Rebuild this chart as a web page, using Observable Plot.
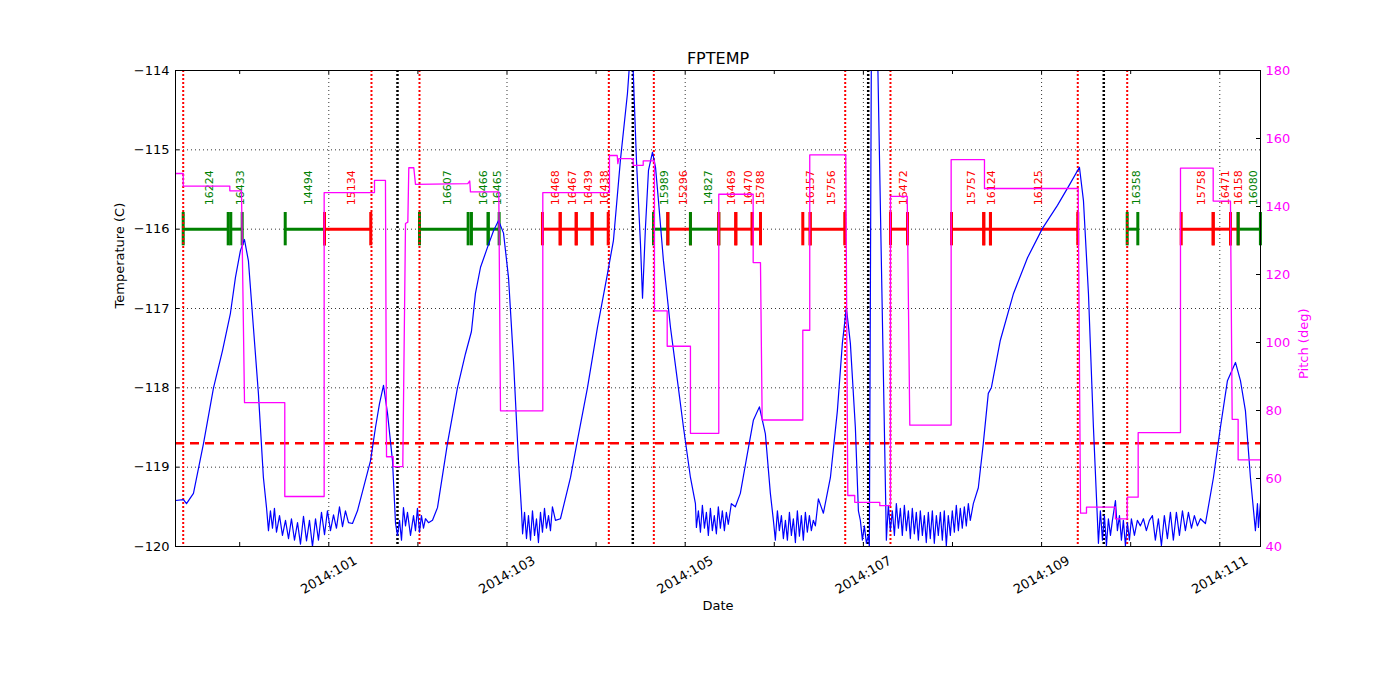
<!DOCTYPE html>
<html><head><meta charset="utf-8">
<script src="https://cdn.jsdelivr.net/npm/d3@7"></script>
<script src="https://cdn.jsdelivr.net/npm/@observablehq/plot@0.6"></script>
<style>body{margin:0;background:#fff;} #chart{width:1400px;height:700px;}</style>
</head><body><div id="chart"></div>
<script>
// ---- axes / scale values ----
const xDomain = [99.2795, 111.457];           // day of year 2014
const tempDomain = [-120, -114];               // left axis, C
const pitchDomain = [40, 180];                 // right axis, deg
const tempTicks = [-120, -119, -118, -117, -116, -115, -114];
const gridTemps = [-119, -118, -117, -116, -115];
const pitchTicks = [40, 60, 80, 100, 120, 140, 160, 180];
const dayTicks = [100, 101, 102, 103, 104, 105, 106, 107, 108, 109, 110, 111];
const labelDays = [101, 103, 105, 107, 109, 111];
const limitTemp = -118.7;
const barTemp = -116;
const labelTemp = -115.70;

// ---- events ----
const redEvents = [99.366, 101.479, 102.018, 104.143, 104.648, 106.796, 107.304, 109.406, 109.961];
const blackEvents = [101.771, 104.412, 107.054, 109.698];

// ---- observations ----
const obsids = [16224, 16433, 14494, 15134, 16607, 16466, 16465, 16468, 16467, 16439, 16438, 15989, 15296, 14827, 16469, 16470, 15788, 16157, 15756, 16472, 15757, 16124, 16125, 16358, 15758, 16471, 16158, 16080];
const obsStart = [99.366, 99.900, 100.511, 100.952, 102.018, 102.601, 102.789, 103.398, 103.597, 103.777, 103.956, 104.644, 104.805, 105.059, 105.377, 105.568, 105.752, 106.320, 106.403, 107.304, 107.989, 108.351, 108.426, 109.961, 110.567, 110.926, 111.120, 111.206];
const obsEnd = [99.871, 100.028, 100.952, 101.471, 102.564, 102.789, 102.912, 103.597, 103.777, 103.956, 104.136, 104.805, 105.059, 105.377, 105.568, 105.752, 105.845, 106.403, 106.791, 107.495, 108.351, 108.426, 109.406, 110.080, 110.926, 111.120, 111.206, 111.456];
const obsKind = ["g","g","g","r","g","g","g","r","r","r","r","g","r","g","r","r","r","r","r","r","r","r","r","g","r","r","r","g"];

// ---- FPTEMP (day, C) ----
const fptemp = [
[99.279,-119.42],[99.369,-119.41],[99.403,-119.46],[99.481,-119.33],[99.594,-118.70],[99.706,-118.00],[99.807,-117.53],[99.896,-117.06],[99.952,-116.61],[100.008,-116.27],[100.053,-116.13],[100.098,-116.40],[100.154,-117.24],[100.210,-118.07],[100.266,-119.13],[100.301,-119.51],
[100.323,-119.80],[100.345,-119.55],[100.368,-119.77],[100.390,-119.52],[100.413,-119.82],[100.447,-119.61],[100.480,-119.86],[100.514,-119.67],[100.548,-119.90],[100.581,-119.65],[100.615,-119.92],[100.649,-119.70],[100.682,-119.97],[100.716,-119.62],[100.750,-119.93],[100.783,-119.67],[100.817,-120.00],[100.851,-119.65],[100.884,-119.92],[100.918,-119.57],[100.952,-119.85],[100.985,-119.55],[101.019,-119.80],[101.053,-119.60],[101.086,-119.77],[101.120,-119.50],[101.154,-119.75],[101.187,-119.55],[101.221,-119.70],[101.266,-119.71],
[101.322,-119.55],[101.389,-119.26],[101.468,-118.92],[101.524,-118.50],[101.569,-118.20],[101.614,-117.97],[101.659,-118.32],[101.715,-118.92],[101.749,-119.71],[101.771,-119.86],
[101.794,-119.67],[101.816,-119.92],[101.838,-119.51],[101.861,-119.74],[101.883,-119.57],[101.917,-119.86],[101.951,-119.61],[101.973,-119.80],[101.995,-119.52],[102.018,-119.82],[102.040,-119.61],[102.063,-119.77],[102.085,-119.65],[102.119,-119.70],[102.164,-119.67],
[102.220,-119.51],[102.332,-118.70],[102.444,-118.00],[102.534,-117.57],[102.601,-117.29],[102.646,-116.81],[102.703,-116.48],[102.781,-116.23],[102.849,-116.02],[102.905,-115.89],[102.961,-116.05],[103.017,-116.61],[103.073,-117.66],[103.129,-118.92],[103.163,-119.55],[103.175,-119.84],
[103.197,-119.57],[103.219,-119.90],[103.241,-119.61],[103.264,-119.92],[103.286,-119.55],[103.309,-119.86],[103.331,-119.65],[103.353,-119.95],[103.376,-119.57],[103.398,-119.82],[103.421,-119.52],[103.443,-119.77],[103.466,-119.61],[103.488,-119.80],[103.510,-119.50],[103.544,-119.67],[103.600,-119.65],
[103.713,-119.13],[103.791,-118.66],[103.903,-118.00],[104.015,-117.24],[104.128,-116.56],[104.195,-116.14],[104.273,-115.13],[104.352,-114.29],[104.386,-113.75],[104.408,-113.75],[104.453,-115.13],[104.498,-116.18],[104.521,-116.87],[104.554,-115.98],[104.588,-115.26],[104.633,-115.03],[104.667,-115.22],[104.700,-115.64],[104.756,-116.40],[104.835,-117.24],[104.913,-117.91],[104.981,-118.50],[105.059,-119.13],[105.115,-119.46],[105.126,-119.76],
[105.148,-119.55],[105.171,-119.82],[105.193,-119.48],[105.216,-119.77],[105.238,-119.57],[105.260,-119.86],[105.283,-119.52],[105.305,-119.80],[105.327,-119.61],[105.350,-119.84],[105.372,-119.50],[105.395,-119.77],[105.417,-119.55],[105.440,-119.80],[105.462,-119.57],[105.484,-119.72],[105.518,-119.46],[105.563,-119.50],
[105.619,-119.33],[105.698,-118.83],[105.765,-118.41],[105.833,-118.24],[105.900,-118.58],[105.956,-119.33],[105.990,-119.67],
[106.012,-119.92],[106.035,-119.55],[106.057,-119.80],[106.080,-119.61],[106.102,-119.90],[106.125,-119.67],[106.147,-119.92],[106.170,-119.57],[106.192,-119.86],[106.214,-119.65],[106.237,-119.95],[106.259,-119.55],[106.282,-119.87],[106.304,-119.61],[106.326,-119.92],[106.349,-119.57],[106.371,-119.82],[106.394,-119.61],[106.416,-119.80],[106.438,-119.67],[106.461,-119.74],[106.495,-119.40],[106.551,-119.58],
[106.630,-119.13],[106.708,-118.29],[106.764,-117.44],[106.809,-116.99],[106.854,-117.44],[106.910,-118.50],[106.944,-119.55],[106.966,-119.67],[106.989,-119.92],[107.011,-119.74],[107.034,-119.96],[107.056,-119.86],[107.067,-120.00],[107.090,-113.62],[107.157,-113.62],[107.258,-119.92],
[107.280,-119.48],[107.303,-119.80],[107.325,-119.55],[107.348,-119.86],[107.370,-119.46],[107.393,-119.77],[107.415,-119.52],[107.437,-119.86],[107.460,-119.48],[107.482,-119.80],[107.505,-119.55],[107.527,-119.90],[107.549,-119.52],[107.572,-119.84],[107.594,-119.57],[107.617,-119.92],[107.639,-119.55],[107.662,-119.86],[107.684,-119.61],[107.706,-119.95],[107.729,-119.57],[107.751,-119.90],[107.774,-119.55],[107.796,-119.96],[107.819,-119.61],[107.841,-119.86],[107.864,-119.57],[107.886,-119.92],[107.908,-119.55],[107.931,-119.99],[107.953,-119.61],[107.976,-119.86],[107.998,-119.55],[108.021,-119.82],[108.043,-119.48],[108.066,-119.80],[108.088,-119.52],[108.110,-119.77],[108.133,-119.50],[108.155,-119.74],[108.178,-119.46],[108.200,-119.67],[108.234,-119.46],
[108.290,-119.26],[108.346,-118.70],[108.402,-118.07],[108.436,-118.00],[108.537,-117.40],[108.685,-116.81],[108.842,-116.36],[109.010,-115.99],[109.178,-115.70],[109.324,-115.42],[109.425,-115.22],[109.470,-115.64],[109.526,-116.81],[109.582,-118.50],[109.627,-119.67],[109.638,-119.96],
[109.660,-119.55],[109.683,-119.92],[109.705,-119.61],[109.728,-119.99],[109.750,-119.65],[109.773,-119.86],[109.795,-119.67],[109.829,-119.42],[109.851,-119.80],[109.874,-119.61],[109.896,-119.92],[109.918,-119.67],[109.941,-119.99],[109.963,-119.70],[109.986,-119.92],[110.008,-119.65],[110.042,-119.86],[110.075,-119.67],[110.109,-119.74],[110.143,-119.65],[110.176,-119.80],[110.210,-119.67],[110.244,-119.61],[110.277,-119.92],[110.311,-119.65],[110.345,-119.99],[110.378,-119.61],[110.412,-119.90],[110.446,-119.57],[110.479,-119.92],[110.513,-119.57],[110.547,-119.86],[110.581,-119.55],[110.614,-119.80],[110.648,-119.57],[110.682,-119.77],[110.715,-119.61],[110.749,-119.74],[110.783,-119.65],[110.839,-119.71],
[110.929,-119.13],[111.007,-118.50],[111.086,-117.91],[111.176,-117.68],[111.232,-117.91],[111.288,-118.29],[111.344,-119.13],[111.400,-119.80],[111.423,-119.46],[111.434,-119.76],[111.456,-119.46]
];

// ---- Pitch (day, deg) ----
const pitch = [
[99.279,149.7],[99.366,149.7],[99.366,146.0],[99.889,146.0],[99.889,144.6],[100.020,144.6],[100.054,82.3],[100.506,82.3],[100.506,54.7],[100.948,54.7],[100.948,144.1],[101.513,144.1],[101.513,147.7],[101.636,147.7],[101.648,66.4],[101.723,66.4],[101.723,63.5],[101.831,63.5],[101.831,64.7],[101.861,135.0],[101.887,135.4],[101.898,151.4],[101.954,151.4],[101.973,146.5],[102.560,146.7],[102.582,147.5],[102.590,144.3],[102.908,144.3],[102.927,79.9],[103.402,79.9],[103.402,144.1],[104.150,144.1],[104.150,155.0],[104.237,155.0],[104.244,152.6],[104.255,154.1],[104.416,154.1],[104.416,152.1],[104.529,152.1],[104.529,153.4],[104.655,153.4],[104.655,109.3],[104.798,109.3],[104.798,98.9],[105.059,98.9],[105.059,73.3],[105.377,73.3],[105.377,143.6],[105.763,143.6],[105.763,123.5],[105.845,123.5],[105.864,77.2],[106.320,77.2],[106.320,103.6],[106.398,103.6],[106.398,155.2],[106.802,155.2],[106.825,55.0],[106.903,55.0],[106.903,53.0],[107.184,53.0],[107.184,52.0],[107.304,52.0],[107.304,143.0],[107.492,143.0],[107.521,75.7],[107.985,75.7],[107.985,153.8],[108.359,153.8],[108.359,145.3],[109.411,145.3],[109.437,49.8],[109.504,49.8],[109.504,51.6],[109.829,51.6],[109.829,48.1],[109.961,48.1],[109.961,54.5],[110.084,54.5],[110.084,73.5],[110.559,73.5],[110.559,151.3],[110.926,151.3],[110.926,141.6],[111.120,141.6],[111.139,77.4],[111.206,77.4],[111.206,65.5],[111.456,65.5]
];

// ---- build ----
const colorOf = k => k === "g" ? "#008000" : "#ff0000";
const obs = obsids.map((o, i) => ({obsid: o, start: obsStart[i], end: obsEnd[i], color: colorOf(obsKind[i])}));
const bounds = obs.flatMap(d => [{x: d.start, color: d.color}, {x: d.end, color: d.color}]);
const toTemp = p => tempDomain[0] + (p - pitchDomain[0]) * (tempDomain[1] - tempDomain[0]) / (pitchDomain[1] - pitchDomain[0]);
const fmtT = d => d < 0 ? "\u2212" + Math.abs(d) : String(d);
const FONT = "'DejaVu Sans', 'Liberation Sans', sans-serif";

const chart = Plot.plot({
  width: 1400, height: 700,
  marginLeft: 175, marginRight: 140, marginTop: 70, marginBottom: 154,
  x: {domain: xDomain, axis: null},
  y: {domain: tempDomain, axis: null},
  color: {type: "identity"},
  style: {fontFamily: FONT, fontSize: "13px", background: "#fff", overflow: "visible", color: "#000"},
  marks: [
    Plot.ruleY(gridTemps, {y: d => d, stroke: "#000", strokeWidth: 0.8, strokeDasharray: "1,3"}),
    Plot.ruleX(labelDays, {x: d => d, stroke: "#000", strokeWidth: 0.8, strokeDasharray: "1,3"}),
    Plot.link(obs, {x1: "start", x2: "end", y1: () => barTemp, y2: () => barTemp, stroke: "color", strokeWidth: 3}),
    Plot.ruleX(bounds, {x: "x", y1: () => barTemp + 0.21, y2: () => barTemp - 0.21, stroke: "color", strokeWidth: 3}),
    Plot.text(obs, {x: d => (d.start + d.end) / 2, y: () => labelTemp, text: d => String(d.obsid), rotate: -90, textAnchor: "start", lineAnchor: "middle", fill: "color", fontSize: 11, dx: 4}),
    Plot.ruleX(redEvents, {x: d => d, stroke: "#ff0000", strokeWidth: 2, strokeDasharray: "2,2"}),
    Plot.ruleX(blackEvents, {x: d => d, stroke: "#000", strokeWidth: 2.5, strokeDasharray: "2,2"}),
    Plot.ruleY([limitTemp], {y: d => d, stroke: "#ff0000", strokeWidth: 2.5, strokeDasharray: "9,6"}),
    Plot.line(fptemp, {x: d => d[0], y: d => d[1], stroke: "#0000ff", strokeWidth: 1.2, clip: true}),
    Plot.line(pitch, {x: d => d[0], y: d => toTemp(d[1]), stroke: "#ff00ff", strokeWidth: 1.3, clip: true}),
    Plot.frame({stroke: "#000", strokeWidth: 1}),
    // inward ticks
    Plot.tickY(tempTicks, {y: d => d, insetRight: 1081, stroke: "#000"}),
    Plot.tickY(pitchTicks.map(toTemp), {y: d => d, insetLeft: 1081, stroke: "#000"}),
    Plot.tickX(dayTicks, {x: d => d, insetTop: 472, stroke: "#000"}),
    Plot.tickX(dayTicks, {x: d => d, insetBottom: 472, stroke: "#000"}),
    // tick labels
    Plot.text(tempTicks, {y: d => d, frameAnchor: "left", dx: -6, textAnchor: "end", text: fmtT, fontSize: 13, fill: "#000"}),
    Plot.text(pitchTicks, {y: d => toTemp(d), frameAnchor: "right", dx: 5, textAnchor: "start", text: d => String(d), fontSize: 13, fill: "#ff00ff"}),
    Plot.text(labelDays, {x: d => d, frameAnchor: "bottom", dy: 28.5, rotate: -30, textAnchor: "middle", lineAnchor: "middle", text: d => "2014:" + d, fontSize: 13, fill: "#000"}),
    // titles
    Plot.text(["FPTEMP"], {frameAnchor: "top", dy: -12, lineAnchor: "middle", text: d => d, fontSize: 16, fill: "#000"}),
    Plot.text(["Date"], {frameAnchor: "bottom", dy: 59, lineAnchor: "middle", text: d => d, fontSize: 13, fill: "#000"}),
    Plot.text(["Temperature (C)"], {frameAnchor: "left", dx: -56, rotate: -90, lineAnchor: "middle", text: d => d, fontSize: 13, fill: "#000"}),
    Plot.text(["Pitch (deg)"], {frameAnchor: "right", dx: 43, rotate: -90, lineAnchor: "middle", text: d => d, fontSize: 13, fill: "#ff00ff"})
  ]
});
document.getElementById("chart").appendChild(chart);
</script>
</body></html>
